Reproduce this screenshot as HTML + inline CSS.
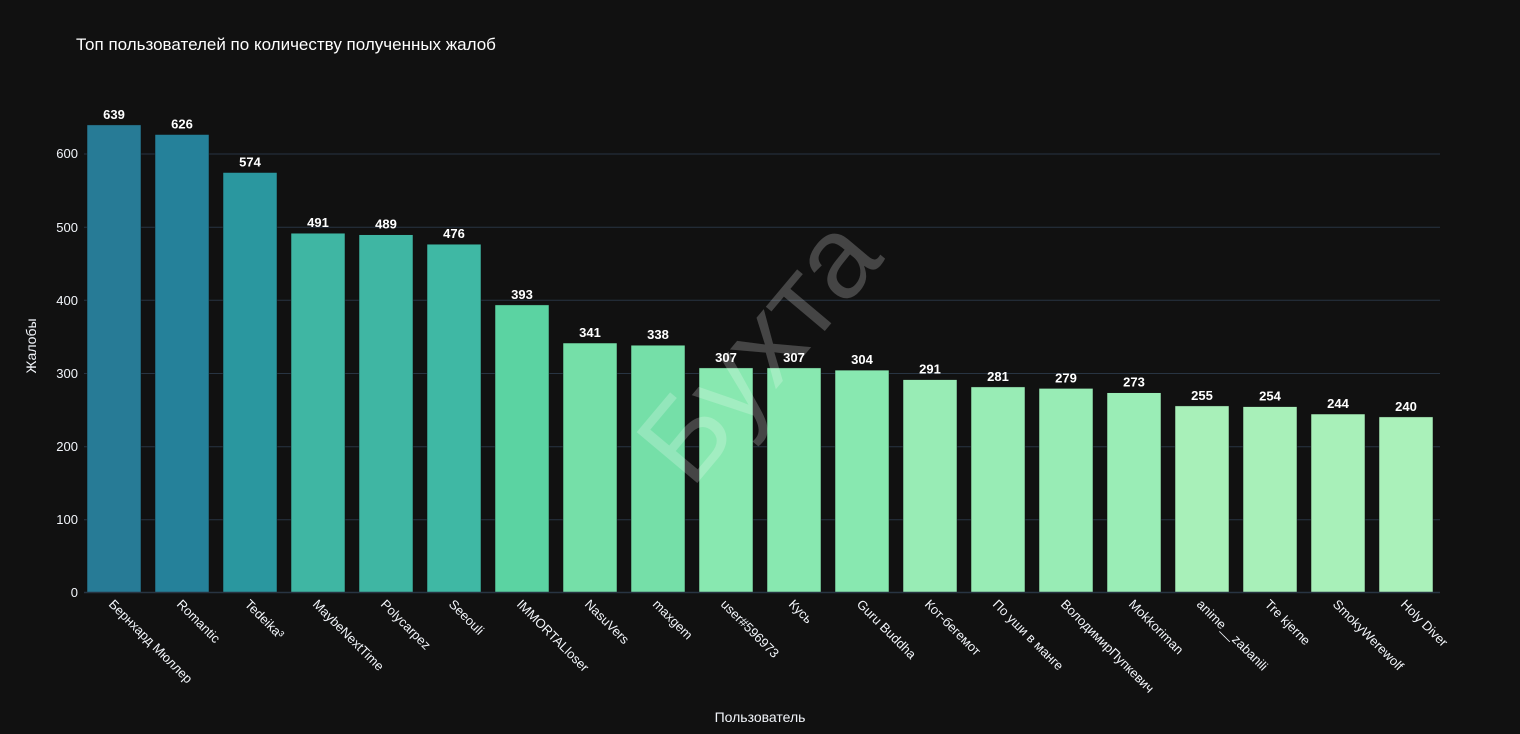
<!DOCTYPE html>
<html><head><meta charset="utf-8"><style>
html,body{margin:0;padding:0;background:#111111;}
svg{display:block;font-family:"Liberation Sans","DejaVu Sans",sans-serif;}
</style></head><body>
<svg width="1520" height="734" viewBox="0 0 1520 734" xmlns="http://www.w3.org/2000/svg">
<rect width="1520" height="734" fill="#111111"/>
<text x="76" y="50" fill="#ffffff" font-size="17">Топ пользователей по количеству полученных жалоб</text>
<g stroke="#283442" stroke-width="1">
<line x1="84" x2="1440" y1="519.8" y2="519.8"/>
<line x1="84" x2="1440" y1="446.7" y2="446.7"/>
<line x1="84" x2="1440" y1="373.5" y2="373.5"/>
<line x1="84" x2="1440" y1="300.3" y2="300.3"/>
<line x1="84" x2="1440" y1="227.2" y2="227.2"/>
<line x1="84" x2="1440" y1="154" y2="154"/>
</g>
<g fill="#f2f5fa" font-size="13" text-anchor="end">
<text x="78" y="597">0</text>
<text x="78" y="524">100</text>
<text x="78" y="451">200</text>
<text x="78" y="378">300</text>
<text x="78" y="305">400</text>
<text x="78" y="232">500</text>
<text x="78" y="158">600</text>
</g>
<text transform="translate(36,346) rotate(-90)" fill="#f2f5fa" font-size="14" text-anchor="middle">Жалобы</text>
<text x="760" y="722" fill="#f2f5fa" font-size="14" text-anchor="middle">Пользователь</text>
<g stroke="#111" stroke-width="0.5">
<rect x="87" y="124.9" width="54" height="467.6" fill="#277b96"/>
<rect x="155" y="134.5" width="54" height="458.0" fill="#25819a"/>
<rect x="223" y="172.5" width="54" height="420.0" fill="#2a979f"/>
<rect x="291" y="233.2" width="54" height="359.3" fill="#3fb6a3"/>
<rect x="359" y="234.7" width="54" height="357.8" fill="#3fb6a3"/>
<rect x="427" y="244.2" width="54" height="348.3" fill="#3fb8a4"/>
<rect x="495" y="304.9" width="54" height="287.6" fill="#5bd3a2"/>
<rect x="563" y="343.0" width="54" height="249.5" fill="#75dfa8"/>
<rect x="631" y="345.2" width="54" height="247.3" fill="#75dfa8"/>
<rect x="699" y="367.9" width="54" height="224.6" fill="#88e8b0"/>
<rect x="767" y="367.9" width="54" height="224.6" fill="#88e8b0"/>
<rect x="835" y="370.1" width="54" height="222.4" fill="#88e8b0"/>
<rect x="903" y="379.6" width="54" height="212.9" fill="#98ecb5"/>
<rect x="971" y="386.9" width="54" height="205.6" fill="#98ecb5"/>
<rect x="1039" y="388.4" width="54" height="204.1" fill="#98ecb5"/>
<rect x="1107" y="392.7" width="54" height="199.8" fill="#9aedb6"/>
<rect x="1175" y="405.9" width="54" height="186.6" fill="#a8f0b9"/>
<rect x="1243" y="406.6" width="54" height="185.9" fill="#a8f0b9"/>
<rect x="1311" y="414.0" width="54" height="178.5" fill="#a8f0b9"/>
<rect x="1379" y="416.9" width="54" height="175.6" fill="#aaf1ba"/>
</g>
<g fill="#ffffff" font-size="13" font-weight="bold" text-anchor="middle">
<text x="114" y="118.9">639</text>
<text x="182" y="128.5">626</text>
<text x="250" y="166.5">574</text>
<text x="318" y="227.2">491</text>
<text x="386" y="228.7">489</text>
<text x="454" y="238.2">476</text>
<text x="522" y="298.9">393</text>
<text x="590" y="337.0">341</text>
<text x="658" y="339.2">338</text>
<text x="726" y="361.9">307</text>
<text x="794" y="361.9">307</text>
<text x="862" y="364.1">304</text>
<text x="930" y="373.6">291</text>
<text x="998" y="380.9">281</text>
<text x="1066" y="382.4">279</text>
<text x="1134" y="386.7">273</text>
<text x="1202" y="399.9">255</text>
<text x="1270" y="400.6">254</text>
<text x="1338" y="408.0">244</text>
<text x="1406" y="410.9">240</text>
</g>
<g fill="#f2f5fa" font-size="13">
<text transform="translate(108,605) rotate(45)">Бернхард Мюллер</text>
<text transform="translate(176,605) rotate(45)">Romantic</text>
<text transform="translate(244,605) rotate(45)">Tedeika³</text>
<text transform="translate(312,605) rotate(45)">MaybeNextTime</text>
<text transform="translate(380,605) rotate(45)">Polycarpez</text>
<text transform="translate(448,605) rotate(45)">Seeouli</text>
<text transform="translate(516,605) rotate(45)">IMMORTALloser</text>
<text transform="translate(584,605) rotate(45)">NasuVers</text>
<text transform="translate(652,605) rotate(45)">maxgem</text>
<text transform="translate(720,605) rotate(45)">user#596973</text>
<text transform="translate(788,605) rotate(45)">Кусь</text>
<text transform="translate(856,605) rotate(45)">Guru Buddha</text>
<text transform="translate(924,605) rotate(45)">Кот-бегемот</text>
<text transform="translate(992,605) rotate(45)">По уши в манге</text>
<text transform="translate(1060,605) rotate(45)">ВолодимирПупкевич</text>
<text transform="translate(1128,605) rotate(45)">Mokkoriman</text>
<text transform="translate(1196,605) rotate(45)">anime__zabanili</text>
<text transform="translate(1264,605) rotate(45)">Tre kjerne</text>
<text transform="translate(1332,605) rotate(45)">SmokyWerewolf</text>
<text transform="translate(1400,605) rotate(45)">Holy Diver</text>
</g>
<line x1="84" x2="1440" y1="592.5" y2="592.5" stroke="#283442" stroke-width="1.5"/>
<text transform="translate(765,355) rotate(-50)" fill="#ffffff" fill-opacity="0.22" font-size="115" text-anchor="middle" dominant-baseline="middle">Бухта</text>
</svg>
</body></html>
